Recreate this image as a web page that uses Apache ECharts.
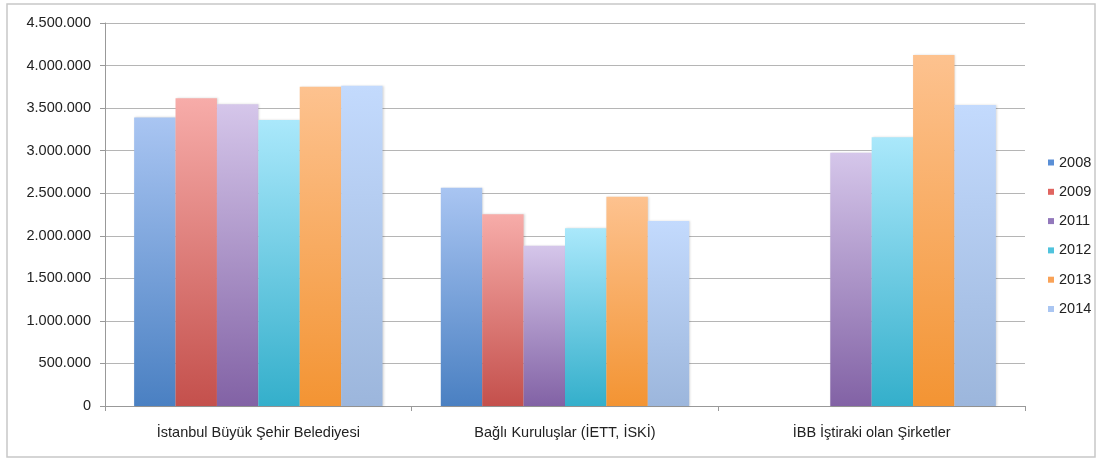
<!DOCTYPE html>
<html><head><meta charset="utf-8">
<script src="https://cdn.jsdelivr.net/npm/echarts@6/dist/echarts.min.js"></script>
<style>html,body{margin:0;padding:0;background:#fff}#c{width:1102px;height:460px}</style>
</head><body><div id="c"></div>
<script>
const categories = ['İstanbul Büyük Şehir Belediyesi', 'Bağlı Kuruluşlar (İETT, İSKİ)', 'İBB İştiraki olan Şirketler'];
const years = ['2008', '2009', '2011', '2012', '2013', '2014'];
const v2008 = [3390000, 2565000, null];
const v2009 = [3615000, 2252000, null];
const v2011 = [3545000, 1884000, 2976000];
const v2012 = [3360000, 2088000, 3157000];
const v2013 = [3752000, 2459000, 4124000];
const v2014 = [3763000, 2174000, 3537000];
const yTicks = [0, 500000, 1000000, 1500000, 2000000, 2500000, 3000000, 3500000, 4000000, 4500000];

const values = [v2008, v2009, v2011, v2012, v2013, v2014];
const topColors = ['#a9c5f2', '#f7aca9', '#d5c6ea', '#aae8fb', '#fdc28f', '#c3dafd'];
const botColors = ['#4a80c2', '#c4504c', '#8262a5', '#34afcb', '#f39433', '#9cb6dc'];
const legendColors = ['#5a8fd6', '#e06560', '#9278bb', '#4fc3dd', '#f9a257', '#aac6f2'];

const chart = echarts.init(document.getElementById('c'));
const fmt = v => String(v).replace(/\B(?=(\d{3})+(?!\d))/g, '.');
const FONT = 'Liberation Sans, Arial, Helvetica';
chart.setOption({
  animation: false,
  backgroundColor: '#fff',
  graphic: [{type: 'rect', shape: {x: 7, y: 4, width: 1088, height: 453}, style: {fill: 'none', stroke: '#c8c8c8', lineWidth: 1.5}, silent: true}],
  grid: {left: 105, right: 77, top: 23, bottom: 54},
  legend: {
    orient: 'vertical', left: 1048, top: 155, padding: 0, itemGap: 14.3, itemWidth: 6, itemHeight: 6,
    icon: 'rect',
    textStyle: {fontFamily: FONT, fontSize: 14.5, color: '#222'},
    data: years.map((y, i) => ({name: y, itemStyle: {color: legendColors[i]}}))
  },
  xAxis: {
    type: 'category', data: categories,
    axisLine: {lineStyle: {color: '#999', width: 1}},
    axisTick: {show: true, length: 5, lineStyle: {color: '#999'}},
    axisLabel: {fontFamily: FONT, fontSize: 14.5, color: '#222', margin: 19}
  },
  yAxis: {
    type: 'value', min: 0, max: 4500000, interval: 500000,
    axisLine: {show: true, lineStyle: {color: '#999'}},
    axisTick: {show: true, length: 5, lineStyle: {color: '#999'}},
    splitLine: {lineStyle: {color: '#b5b5b5', width: 1.2}},
    axisLabel: {fontFamily: FONT, fontSize: 14.5, color: '#222', margin: 14,
      formatter: v => yTicks.includes(v) ? fmt(v) : ''}
  },
  series: years.map((y, i) => ({
    name: y, type: 'bar', data: values[i],
    barGap: '0%', barCategoryGap: '19%',
    itemStyle: {
      color: new echarts.graphic.LinearGradient(0, 0, 0, 1, [
        {offset: 0, color: topColors[i]}, {offset: 1, color: botColors[i]}
      ]),
      shadowColor: 'rgba(0,0,0,0.15)', shadowBlur: 2, shadowOffsetX: 1
    }
  }))
});
</script></body></html>
